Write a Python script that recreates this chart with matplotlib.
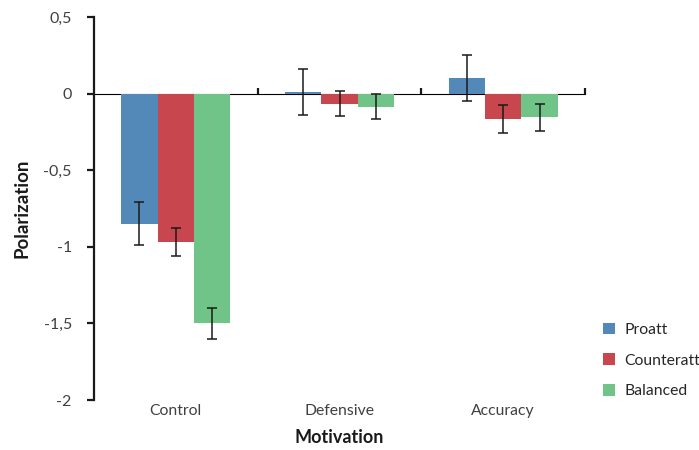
import numpy as np
import matplotlib.pyplot as plt
from matplotlib.ticker import FuncFormatter

plt.rcParams['font.family'] = ['Lato', 'DejaVu Sans']

# data
categories = ['Control', 'Defensive', 'Accuracy']
series = ['Proatt', 'Counteratt', 'Balanced']
proatt = [-0.85, 0.01, 0.10]
counteratt = [-0.97, -0.065, -0.165]
balanced = [-1.50, -0.085, -0.155]
proatt_err = [0.14, 0.15, 0.15]
counteratt_err = [0.09, 0.08, 0.09]
balanced_err = [0.10, 0.08, 0.09]
yticks = [0.5, 0, -0.5, -1, -1.5, -2]

colors = ['#5289b9', '#c8474f', '#71c488']
values = [proatt, counteratt, balanced]
errors = [proatt_err, counteratt_err, balanced_err]

fig = plt.figure(figsize=(6.99, 4.5), dpi=100)
ax = fig.add_axes([0.1345, 0.111, 0.7025, 0.851])

x = np.arange(len(categories))
width = 1 / 4.5
for k, (name, vals, errs, c) in enumerate(zip(series, values, errors, colors)):
    pos = x + (k - 1) * width
    ax.bar(pos, vals, width, color=c, label=name, zorder=2)
    ax.errorbar(pos, vals, yerr=errs, fmt='none', ecolor='#1a1a1a',
                elinewidth=1.1, capsize=3.6, capthick=1.1, zorder=3)

ax.set_xlim(-0.5, len(categories) - 0.5)
ax.set_ylim(-2, 0.5)
ax.set_yticks(yticks)
ax.yaxis.set_major_formatter(FuncFormatter(lambda v, p: f'{v:g}'.replace('.', ',')))

for s in ['top', 'right', 'bottom']:
    ax.spines[s].set_visible(False)
ax.spines['left'].set_linewidth(1.6)
ax.spines['left'].set_color('#1a1a1a')
ax.tick_params(axis='y', direction='out', length=5, width=1.6, color='#1a1a1a',
               labelsize=11.5, labelcolor='#404040', pad=11)
ax.set_xticks(x)
ax.set_xticklabels(categories)
ax.tick_params(axis='x', length=0, labelsize=11.3, labelcolor='#404040', pad=3)

# zero line with category boundary ticks
zero_frac = (0 - (-2)) / (0.5 - (-2))
sec = ax.secondary_xaxis(zero_frac)
sec.set_xticks(x + 0.5)
sec.set_xticklabels([])
sec.spines['bottom'].set_linewidth(1.6)
sec.spines['bottom'].set_color('#1a1a1a')
sec.tick_params(axis='x', direction='out', length=4, width=1.6, color='#1a1a1a')

ax.set_ylabel('Polarization', fontsize=13.5, fontweight='bold', color='#1a1a1a', labelpad=9)
ax.set_xlabel('Motivation', fontsize=13, fontweight='bold', color='#1a1a1a', labelpad=8)

leg = ax.legend(loc='upper left', bbox_to_anchor=(0.858, 0.29), bbox_transform=fig.transFigure,
                frameon=False, fontsize=11.3, handlelength=0.75, handleheight=0.75,
                handletextpad=0.6, labelspacing=1.05, labelcolor='#262626',
                borderaxespad=0, borderpad=0.2)

fig.savefig('out.png', dpi=100)
